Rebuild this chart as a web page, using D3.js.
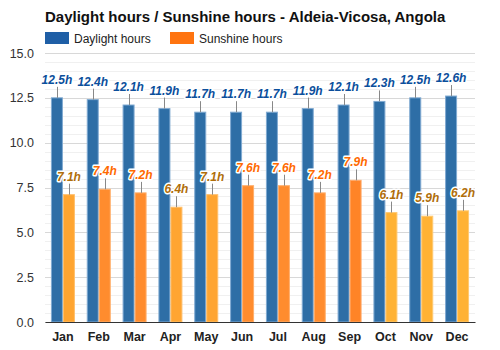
<!DOCTYPE html>
<html>
<head>
<meta charset="utf-8">
<script src="https://cdn.jsdelivr.net/npm/d3@7"></script>
<style>
  html, body { margin: 0; padding: 0; background: #fff; }
  svg { display: block; font-family: Arial, "Liberation Sans", sans-serif; }
</style>
</head>
<body>
<svg id="chart" width="500" height="350"></svg>
<script>
// Monthly daylight and sunshine hours
const months = ["Jan", "Feb", "Mar", "Apr", "May", "Jun", "Jul", "Aug", "Sep", "Oct", "Nov", "Dec"];
const daylight = [12.5, 12.4, 12.1, 11.9, 11.7, 11.7, 11.7, 11.9, 12.1, 12.3, 12.5, 12.6];
const sunshine = [7.1, 7.4, 7.2, 6.4, 7.1, 7.6, 7.6, 7.2, 7.9, 6.1, 5.9, 6.2];
const yTicks = [0, 2.5, 5, 7.5, 10, 12.5, 15];
const seriesNames = ["Daylight hours", "Sunshine hours"];

const svg = d3.select("#chart");
const W = 500, H = 350;
const m = { left: 45, right: 25, top: 53, bottom: 28 };

const x = d3.scaleBand().domain(months).range([m.left, W - m.right]);
const y = d3.scaleLinear().domain([0, 15]).range([H - m.bottom, m.top]);

// Sunshine bar colours shift from yellow-orange to deep orange with more sun
const sunFill = d3.scaleThreshold().domain([6.3, 7.15, 7.8]).range(["#ffb234", "#ffa531", "#ff8c2e", "#ff8427"]);
const sunStroke = d3.scaleThreshold().domain([6.3, 7.15, 7.8]).range(["#ffc870", "#ffbf6a", "#ffae6a", "#ffa868"]);
const sunLabel = d3.scaleThreshold().domain([7.15]).range(["#b06e0a", "#ff6a00"]);

// Title
svg.append("text")
  .attr("x", 45).attr("y", 22)
  .attr("font-size", 15).attr("font-weight", "bold").attr("fill", "#111")
  .text("Daylight hours / Sunshine hours - Aldeia-Vicosa, Angola");

// Legend
const legend = svg.append("g");
const legendItems = [
  { name: seriesNames[0], color: "#1f5fa6", x: 45 },
  { name: seriesNames[1], color: "#ff7410", x: 170 }
];
legendItems.forEach(d => {
  legend.append("rect").attr("x", d.x).attr("y", 32).attr("width", 24).attr("height", 12).attr("fill", d.color);
  legend.append("text").attr("x", d.x + 29).attr("y", 42.5)
    .attr("font-size", 12).attr("fill", "#222").text(d.name);
});

// Minor and major grid lines
const minor = d3.range(0, 15.01, 0.5);
svg.append("g").selectAll("line").data(minor).join("line")
  .attr("x1", m.left).attr("x2", W - m.right)
  .attr("y1", d => Math.round(y(d)) + 0.5).attr("y2", d => Math.round(y(d)) + 0.5)
  .attr("stroke", d => yTicks.includes(d) ? "#d8d8d8" : "#f0f0f0")
  .attr("stroke-width", 1);

// Y axis labels
const yAxis = svg.append("g").attr("transform", `translate(${m.left},0)`)
  .call(d3.axisLeft(y).tickValues(yTicks).tickFormat(d3.format(".1f")).tickSize(0).tickPadding(11));
yAxis.select(".domain").remove();
yAxis.selectAll("text").attr("font-size", 12.5).attr("fill", "#333").attr("font-family", "Arial, 'Liberation Sans', sans-serif");

// Bars
const bw = 11;
const data = months.map((mo, i) => ({ mo, day: daylight[i], sun: sunshine[i] }));
const cx = d => x(d.mo) + x.bandwidth() / 2;

svg.append("g").selectAll("rect").data(data).join("rect")
  .attr("x", d => cx(d) - bw - 0.5)
  .attr("y", d => y(d.day))
  .attr("width", bw).attr("height", d => y(0) - y(d.day))
  .attr("fill", "#2e6ea6").attr("stroke", "#80aad2").attr("stroke-width", 1);

svg.append("g").selectAll("rect").data(data).join("rect")
  .attr("x", d => cx(d) + 0.5)
  .attr("y", d => y(d.sun))
  .attr("width", bw).attr("height", d => y(0) - y(d.sun))
  .attr("fill", d => sunFill(d.sun)).attr("stroke", d => sunStroke(d.sun)).attr("stroke-width", 1);

// X axis
const xAxis = svg.append("g").attr("transform", `translate(0,${y(0)})`)
  .call(d3.axisBottom(x).tickSize(0).tickPadding(10));
xAxis.select(".domain").attr("stroke", "#333").attr("stroke-width", 1.2);
xAxis.selectAll("text").attr("font-size", 12.5).attr("font-weight", "bold").attr("fill", "#222")
  .attr("font-family", "Arial, 'Liberation Sans', sans-serif");

// Value labels with leader lines
function addLabels(key, offset, colorFn) {
  const g = svg.append("g");
  data.forEach(d => {
    const bx = cx(d) + offset;
    const top = y(d[key]);
    g.append("line").attr("x1", Math.round(bx) + 0.5).attr("x2", Math.round(bx) + 0.5)
      .attr("y1", top - 11).attr("y2", top).attr("stroke", "#888").attr("stroke-width", 1);
    const t = g.append("text").attr("x", bx).attr("y", top - 14)
      .attr("text-anchor", "middle").attr("font-size", 12)
      .attr("font-weight", "bold").attr("font-style", "italic")
      .text(d[key].toFixed(1) + "h");
    t.clone(true).lower().attr("stroke", "#fff").attr("stroke-width", 3).attr("stroke-linejoin", "round").attr("fill", "#fff");
    t.attr("fill", colorFn(d[key]));
  });
}
addLabels("day", -bw / 2 - 0.5, () => "#0b4f9c");
addLabels("sun", bw / 2 + 0.5, sunLabel);
</script>
</body>
</html>
